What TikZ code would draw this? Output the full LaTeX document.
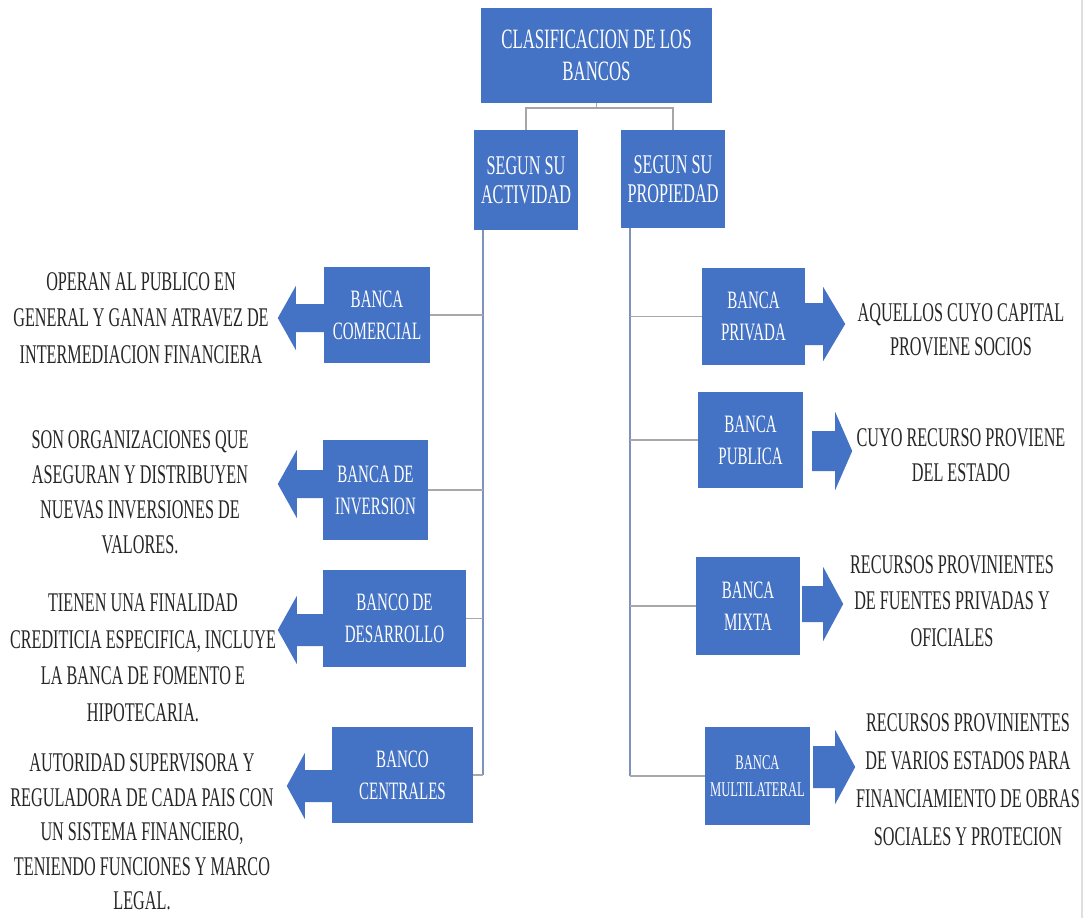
\documentclass[tikz,border=0pt]{standalone}
\usepackage{fontspec}
\setmainfont{Liberation Serif}[FakeStretch=0.6]
\usetikzlibrary{calc}
\definecolor{boxblue}{HTML}{4472C4}
\definecolor{txtgray}{HTML}{262626}
\definecolor{trunkblue}{HTML}{7F92BC}
\definecolor{branchgray}{HTML}{A8A8A8}
\newcommand\barrow[6]{%
  \fill[boxblue] (#1) ++(0,-#5) -- ++({#2*#3},0) -- ++(0,{#5-#6}) -- ++({#2*#4},#6)
    -- ++({-#2*#4},#6) -- ++(0,{#5-#6}) -- ++({-#2*#3},0) -- cycle;}
\tikzset{
  bluebox/.style={fill=boxblue, text=white, align=center, inner sep=0pt,
    font=\fontsize{25}{32}\selectfont},
  desc/.style={text=txtgray, align=center, inner sep=0pt,
    font=\fontsize{27}{36.5}\selectfont},
  trunk/.style={draw=trunkblue, line width=1.6pt},
  branch/.style={draw=branchgray, line width=1.8pt},
}
\begin{document}
\begin{tikzpicture}[x=1pt,y=-1pt]
\useasboundingbox[fill=white] (0,0) rectangle (1088,918);
\draw[gray!25, line width=1.2pt] (1082,0) -- (1082,918);
% top
\node[bluebox, minimum width=231pt, minimum height=95pt, font=\fontsize{28}{32}\selectfont] (top) at (596.5,55.5) {CLASIFICACION DE LOS\\BANCOS};
\node[bluebox, minimum width=104pt, minimum height=100pt, font=\fontsize{27}{29}\selectfont] (act) at (526,180) {SEGUN SU\\ACTIVIDAD};
\node[bluebox, minimum width=104pt, minimum height=98pt, font=\fontsize{27}{29}\selectfont] (prop) at (673,179) {SEGUN SU\\PROPIEDAD};
% left boxes
\node[bluebox, minimum width=106pt, minimum height=96pt] (com) at (377,315) {BANCA\\COMERCIAL};
\node[bluebox, minimum width=105pt, minimum height=100pt] (inv) at (375.5,490) {BANCA DE\\INVERSION};
\node[bluebox, minimum width=143pt, minimum height=97pt] (des) at (394.5,618.5) {BANCO DE\\DESARROLLO};
\node[bluebox, minimum width=141pt, minimum height=96pt] (cen) at (402.5,775) {BANCO\\CENTRALES};
% right boxes
\node[bluebox, minimum width=103pt, minimum height=97pt] (pri) at (753.5,316.5) {BANCA\\PRIVADA};
\node[bluebox, minimum width=105pt, minimum height=96pt] (pub) at (750.5,440) {BANCA\\PUBLICA};
\node[bluebox, minimum width=104pt, minimum height=98pt] (mix) at (748,606) {BANCA\\MIXTA};
\node[bluebox, minimum width=105pt, minimum height=98pt, font=\fontsize{21}{27}\selectfont] (mul) at (757.5,776) {BANCA\\MULTILATERAL};
% descriptions
\node[desc] (t1) at (141,318) {OPERAN AL PUBLICO EN\\GENERAL Y GANAN ATRAVEZ DE\\INTERMEDIACION FINANCIERA};
\node[desc, font=\fontsize{27}{35}\selectfont] (t2) at (140,492) {SON ORGANIZACIONES QUE\\ASEGURAN Y DISTRIBUYEN\\NUEVAS INVERSIONES DE\\VALORES.};
\node[desc] (t3) at (143,658) {TIENEN UNA FINALIDAD\\CREDITICIA ESPECIFICA, INCLUYE\\LA BANCA DE FOMENTO E\\HIPOTECARIA.};
\node[desc, font=\fontsize{27}{34.5}\selectfont] (t4) at (142,832) {AUTORIDAD SUPERVISORA Y\\REGULADORA DE CADA PAIS CON\\UN SISTEMA FINANCIERO,\\TENIENDO FUNCIONES Y MARCO\\LEGAL.};
\node[desc, font=\fontsize{27}{34}\selectfont] (r1) at (961,330) {AQUELLOS CUYO CAPITAL\\PROVIENE SOCIOS};
\node[desc, font=\fontsize{27}{35}\selectfont] (r2) at (961,455) {CUYO RECURSO PROVIENE\\DEL ESTADO};
\node[desc] (r3) at (952,601) {RECURSOS PROVINIENTES\\DE FUENTES PRIVADAS Y\\OFICIALES};
\node[desc, font=\fontsize{27}{38}\selectfont] (r4) at (968,780) {RECURSOS PROVINIENTES\\DE VARIOS ESTADOS PARA\\FINANCIAMIENTO DE OBRAS\\SOCIALES Y PROTECION};
% top connectors
\draw[branch, draw=gray!70] (top.south) -- ++(0,5) -| (act.north);
\draw[branch, draw=gray!70] (top.south) -- ++(0,5) -| (prop.north);
% trunks
\coordinate (lx) at (483,0);
\coordinate (rx) at (630,0);
\draw[trunk] (act.south -| lx) -- (cen.east -| lx);
\draw[trunk] (prop.south -| rx) -- (mul.west -| rx);
\foreach \b in {com,inv,des,cen} \draw[branch] (\b.east) -- (\b.east -| lx);
\foreach \b in {pri,pub,mix,mul} \draw[branch] (\b.west) -- (\b.west -| rx);
% arrows
\coordinate (a1) at ($(com.west)+(0,3)$);
\coordinate (a2) at ($(inv.west)+(0,-6)$);
\coordinate (a3) at ($(des.west)+(0,11.5)$);
\coordinate (a4) at ($(cen.west)+(0,11)$);
\coordinate (b1) at ($(pri.east)+(0,7.5)$);
\coordinate (b2) at ($(pub.east)+(9,11)$);
\coordinate (b3) at ($(mix.east)+(2,-2)$);
\coordinate (b4) at ($(mul.east)+(3,-9)$);
\barrow{a1}{-1}{28}{18}{14}{32}
\barrow{a2}{-1}{26}{19}{14}{34}
\barrow{a3}{-1}{26}{19}{16}{34}
\barrow{a4}{-1}{27}{18}{16}{33}
\barrow{b1}{1}{18}{22}{21}{37}
\barrow{b2}{1}{23}{17}{20}{39}
\barrow{b3}{1}{21}{20}{18}{37}
\barrow{b4}{1}{22}{20}{21}{37}
\end{tikzpicture}
\end{document}
